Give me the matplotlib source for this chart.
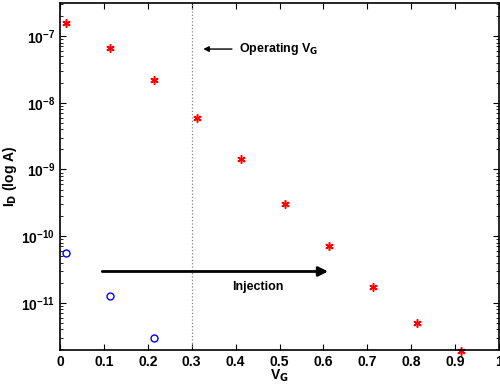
import matplotlib
matplotlib.use('Agg')
import matplotlib.pyplot as plt
from matplotlib.ticker import LogLocator, NullFormatter

plt.rcParams['font.family'] = ['Liberation Sans', 'DejaVu Sans']
plt.rcParams['font.weight'] = 'bold'
plt.rcParams['mathtext.default'] = 'bf'

# data
vg_on = [0.013, 0.113, 0.213, 0.313, 0.413, 0.513, 0.613, 0.713, 0.813, 0.913]
id_on = [1.58e-7, 6.7e-8, 2.2e-8, 6.0e-9, 1.43e-9, 3.06e-10, 7.2e-11, 1.7e-11, 4.9e-12, 1.9e-12]
vg_off = [0.013, 0.113, 0.213]
id_off = [5.6e-11, 1.27e-11, 2.95e-12]
operating_vg = 0.3

fig = plt.figure(figsize=(5, 3.87), dpi=100)
ax = fig.add_axes([0.12, 0.096, 0.878, 0.896])

ax.plot(vg_on, id_on, linestyle='none', marker=(6, 2, 0), color='red',
        markersize=6, markeredgewidth=1.1, clip_on=False)
ax.plot(vg_off, id_off, 'o', color='blue', markerfacecolor='none', markersize=5, markeredgewidth=1)
ax.axvline(operating_vg, color='gray', linestyle=':', linewidth=0.9)

ax.set_yscale('log')
ax.set_xlim(0, 1)
ax.set_ylim(1.97e-12, 3.13e-7)
ax.set_xticks([0, 0.1, 0.2, 0.3, 0.4, 0.5, 0.6, 0.7, 0.8, 0.9, 1])
ax.set_xticklabels(['0', '0.1', '0.2', '0.3', '0.4', '0.5', '0.6', '0.7', '0.8', '0.9', '1'])
ax.yaxis.set_major_locator(LogLocator(base=10, numticks=12))
ax.yaxis.set_minor_locator(LogLocator(base=10, subs=range(2, 10), numticks=12))
ax.yaxis.set_minor_formatter(NullFormatter())
ax.tick_params(which='both', direction='in', top=True, right=True, labelsize=10)
ax.tick_params(which='major', length=4)
ax.tick_params(which='minor', length=2)
for s in ax.spines.values():
    s.set_linewidth(1.2)

ax.set_xlabel('V$_\\mathbf{G}$', fontsize=10, fontweight='bold', labelpad=-1)
ax.set_ylabel('I$_\\mathbf{D}$ (log A)', fontsize=10, fontweight='bold', labelpad=2)

ax.annotate('', xy=(0.617, 2.95e-11), xytext=(0.09, 2.95e-11),
            arrowprops=dict(arrowstyle='-|>', color='black', lw=2, mutation_scale=14))
ax.text(0.45, 1.75e-11, 'Injection', fontsize=9, fontweight='bold', ha='center', va='center')

ax.annotate('', xy=(0.32, 6.4e-8), xytext=(0.398, 6.4e-8),
            arrowprops=dict(arrowstyle='-|>', color='black', lw=1, mutation_scale=8))
ax.text(0.408, 6.4e-8, 'Operating V$_\\mathbf{G}$', fontsize=9, fontweight='bold', ha='left', va='center')

fig.savefig('out.png', dpi=100)
